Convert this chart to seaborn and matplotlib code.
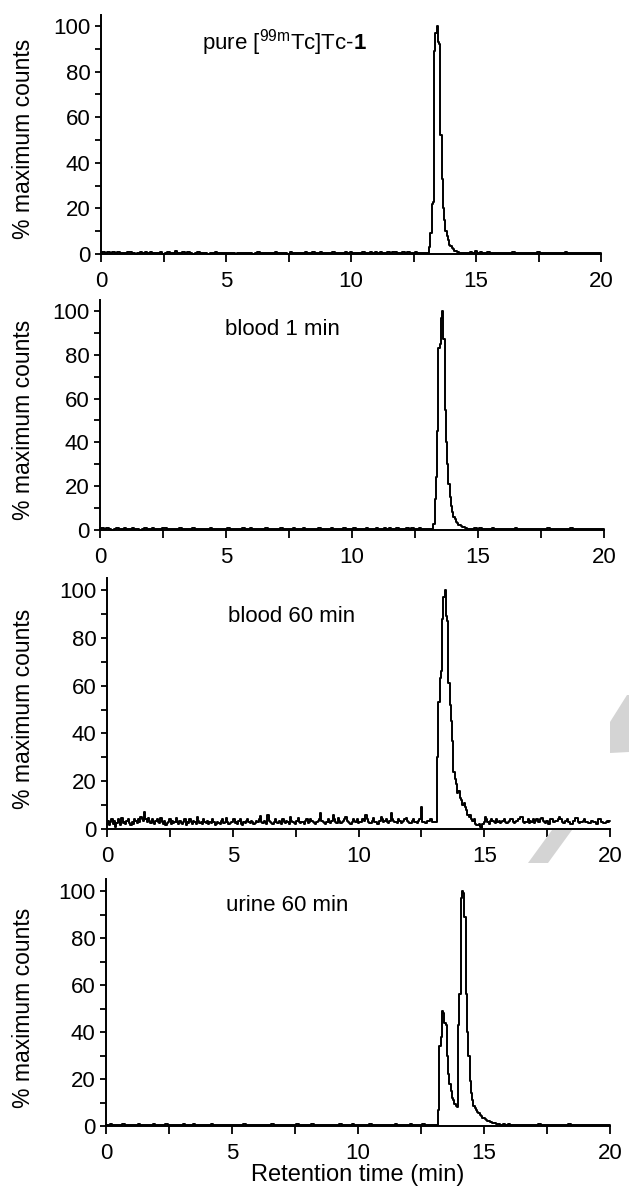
import numpy as np
import pandas as pd
import matplotlib
matplotlib.use("Agg")
import matplotlib.pyplot as plt
import seaborn as sns
from matplotlib.patches import Polygon
from matplotlib.ticker import MultipleLocator

sns.set_theme(style="ticks")
plt.rcParams['font.family'] = ['Liberation Sans', 'DejaVu Sans']
plt.rcParams['mathtext.fontset'] = 'custom'
plt.rcParams['mathtext.rm'] = 'Liberation Sans'
plt.rcParams['mathtext.it'] = 'Liberation Sans:italic'
plt.rcParams['mathtext.bf'] = 'Liberation Sans:bold'

# ---------------- data (% maximum counts) ----------------
PEAK_STEP = 0.05   # min, peak-window sampling

panel_labels = [r"pure [$^{\mathregular{99m}}$Tc]Tc-$\mathbf{1}$",
                "blood 1 min", "blood 60 min", "urine 60 min"]

x_ticks = [0, 5, 10, 15, 20]
y_ticks = [0, 20, 40, 60, 80, 100]

# baseline sampled every 0.1 min
base1 = [0.6, 0.9, 0.4, 0.7, 0.3, 0.8, 0.5, 1.0, 0.4, 0.6,
         0.3, 0.7, 0.9, 0.5, 0.2, 0.6, 0.8, 0.4, 0.7, 0.5,
         0.9, 0.3, 0.6, 0.4, 0.8, 0.2, 0.5, 0.7, 0.3, 0.6,
         1.1, 0.5, 0.4, 0.7, 0.3, 0.9, 0.6, 0.2, 0.5, 0.8,
         0.4, 0.6, 0.3, 0.2, 0.5, 0.4, 0.7, 0.3, 0.6, 0.5,
         0.3, 0.5, 0.4, 0.6, 0.2, 0.5, 0.3, 0.4, 0.6, 0.3,
         0.5, 0.2, 0.4, 0.7, 0.3, 0.5, 0.4, 0.6, 0.3, 0.5,
         0.8, 0.4, 0.3, 0.6, 0.5, 0.2, 0.7, 0.4, 0.5, 0.3,
         0.6, 0.4, 0.7, 0.5, 0.3, 0.8, 0.4, 0.6, 0.9, 0.5,
         0.3, 0.6, 0.4, 0.7, 0.5, 0.3, 0.6, 0.4, 0.8, 0.5,
         0.7, 0.4, 0.6, 0.3, 0.5, 0.8, 0.4, 0.6, 0.7, 0.5,
         0.9, 0.5, 0.7, 0.4, 0.6, 0.8, 0.5, 0.7, 1.0, 0.6,
         0.5, 0.7, 0.4, 0.8, 0.6, 0.5, 0.7, 0.4, 0.6, 0.5,
         0.4, 0.5, 0.5, 0.5, 0.5, 0.5, 0.5, 0.5, 0.5, 0.5,
         0.5, 0.5, 0.5, 0.5, 0.5, 0.5, 0.6, 0.4, 0.8, 0.5,
         1.2, 0.6, 0.9, 0.5, 0.4, 0.7, 0.3, 0.5, 0.6, 0.4,
         0.3, 0.5, 0.4, 0.6, 0.3, 0.7, 0.5, 0.4, 0.6, 0.3,
         0.5, 0.4, 0.6, 0.3, 0.5, 0.7, 0.4, 0.5, 0.3, 0.6,
         0.4, 0.5, 0.3, 0.6, 0.4, 0.5, 0.7, 0.3, 0.4, 0.6,
         0.5, 0.3, 0.5, 0.4, 0.6, 0.3, 0.5, 0.4, 0.3, 0.5,
         0.4]
peak1_start = 13.10
peak1 = [0.5, 3, 9, 22, 23, 89, 97, 100, 93, 92,
         52, 33, 20, 15, 10, 8, 6, 4, 3.5, 2.5,
         2, 1.5, 1.2, 1.0, 0.8, 0.5, 0.4, 0.3, 0.6, 0.3]

# baseline sampled every 0.1 min
base2 = [0.4, 0.7, 0.3, 0.8, 0.5, 0.2, 0.6, 0.9, 0.4, 0.5,
         0.7, 0.3, 0.5, 0.8, 0.4, 0.6, 0.2, 0.5, 0.7, 0.4,
         0.6, 0.8, 0.3, 0.5, 0.4, 0.7, 0.9, 0.3, 0.6, 0.4,
         0.5, 0.3, 0.7, 0.4, 0.6, 0.5, 0.3, 0.8, 0.4, 0.6,
         0.3, 0.5, 0.4, 0.6, 0.7, 0.3, 0.5, 0.4, 0.6, 0.3,
         0.5, 0.7, 0.3, 0.4, 0.6, 0.5, 0.3, 0.7, 0.4, 0.5,
         0.8, 0.4, 0.6, 0.3, 0.5, 0.4, 0.7, 0.5, 0.3, 0.6,
         0.4, 0.5, 0.7, 0.3, 0.6, 0.4, 0.5, 0.8, 0.4, 0.6,
         0.3, 0.7, 0.5, 0.4, 0.6, 0.3, 0.5, 0.7, 0.4, 0.5,
         0.6, 0.4, 0.8, 0.5, 0.3, 0.6, 0.4, 0.7, 0.5, 0.4,
         0.5, 0.7, 0.4, 0.6, 0.3, 0.5, 0.8, 0.4, 0.6, 0.5,
         0.7, 0.4, 0.6, 0.9, 0.5, 0.7, 0.4, 0.6, 0.8, 0.5,
         0.6, 0.4, 0.7, 0.5, 0.8, 0.6, 0.4, 0.7, 0.5, 0.6,
         0.5, 0.6, 0.4, 0.5, 0.5, 0.5, 0.5, 0.5, 0.5, 0.5,
         0.5, 0.5, 0.5, 0.5, 0.5, 0.5, 0.5, 0.6, 0.4, 0.7,
         0.5, 0.8, 0.4, 0.6, 0.5, 0.3, 0.7, 0.4, 0.5, 0.6,
         0.4, 0.3, 0.6, 0.5, 0.4, 0.7, 0.3, 0.5, 0.6, 0.4,
         0.5, 0.6, 0.3, 0.5, 0.4, 0.6, 0.5, 0.3, 0.7, 0.4,
         0.6, 0.4, 0.5, 0.3, 0.6, 0.4, 0.5, 0.7, 0.4, 0.5,
         0.3, 0.5, 0.6, 0.4, 0.5, 0.3, 0.6, 0.4, 0.5, 0.4,
         0.5]
peak2_start = 13.20
peak2 = [0.5, 2.6, 14, 24, 45, 83, 85, 97, 100, 87,
         55, 40, 30, 21, 15, 11, 8, 6, 5, 3.5,
         3, 2.5, 2.2, 2, 1.5, 1.2, 1, 0.8, 0.5, 0.3]

# baseline sampled every 0.05 min (noisier trace)
base3 = [2, 3.5, 1.5, 3, 4, 2, 3.5, 1, 2.5, 4,
         3, 1.5, 4.5, 2.5, 3, 2, 3.5, 4, 2.5, 1.5,
         3, 2, 4, 3.5, 2.5, 4, 3, 5, 4, 3.5,
         7, 4, 3, 4.5, 3.5, 2.5, 4, 3, 2, 3.5,
         4, 3, 2.5, 4.5, 3, 2, 3.5, 1.5, 2.5, 3,
         4, 2, 3.5, 2.5, 3, 4.5, 3, 2, 3.5, 2.5,
         2, 3, 4, 1.5, 3, 2.5, 4, 3, 2, 3.5,
         3, 2, 5, 3.5, 2.5, 3, 2, 4, 3, 2.5,
         3.5, 2, 3, 2.5, 4, 3, 1.5, 2, 3, 2.5,
         2, 3.5, 4, 2.5, 3, 4.5, 3, 2, 2.5, 3,
         3, 4, 2.5, 3, 2, 3.5, 4, 2, 1.5, 3,
         2.5, 3.5, 4, 3, 2.5, 3.5, 3, 2, 2.5, 3.5,
         3, 4, 5.5, 3, 2.5, 3.5, 3, 2, 6, 3.5,
         3, 2.5, 2, 3, 4, 3, 2.5, 3.5, 3, 2,
         4, 3, 2.5, 3.5, 3, 2, 5, 3.5, 3, 2.5,
         2, 3.5, 4.5, 3, 2.5, 3, 3, 2, 3.5, 4,
         2.5, 3, 4, 3.5, 3, 2.5, 2, 3, 3.5, 4,
         6.5, 3.5, 3, 2.5, 2, 3, 4, 3, 2.5, 3.5,
         6, 4, 3, 2.5, 4.5, 3.5, 2.5, 3, 3.5, 4,
         5, 3.5, 3, 2.5, 2, 3, 4, 3.5, 3, 4,
         2.5, 3, 3, 4, 4, 3.5, 6, 4, 3, 2.5,
         2.5, 3.5, 4.5, 3, 3, 2, 2, 3.5, 5, 4,
         3, 3.5, 4, 3, 2.5, 3.5, 6.5, 4, 3.5, 3,
         3, 2.5, 4, 3.5, 2.5, 3, 3.5, 4, 4.5, 3.5,
         3, 2.5, 2.5, 3.5, 4, 3, 3, 2.5, 3.5, 4,
         9, 3, 3, 2.5, 2.5, 3.5, 3.5, 4, 4, 3,
         3, 3, 3, 3, 3, 3, 3, 3, 3, 3,
         3, 3, 3, 3, 3, 3, 3, 3, 3, 3,
         3, 3, 3, 3, 3, 3, 3, 3, 3, 3,
         3, 3, 3, 3, 3, 1.5, 2, 1, 0.5, 2,
         3, 5, 4, 3, 2, 3.5, 4, 3.5, 3, 2.5,
         4, 3, 3.5, 2.5, 3, 3.5, 4, 3, 2.5, 3,
         3.5, 4, 4, 3, 2.5, 3, 3.5, 4, 4, 5,
         5, 3, 2.5, 3, 3, 4, 2.5, 3.5, 3, 4,
         2.5, 3.5, 4, 3, 3, 4, 4.5, 3.5, 3, 2.5,
         3.5, 2, 2, 4, 4, 3, 3, 3.5, 3.5, 4,
         5, 4, 3, 2.5, 2.5, 3.5, 4, 3, 3, 2,
         2, 3.5, 3.5, 4.5, 4.5, 3, 2.5, 3, 3, 3.5,
         4, 3, 3, 2.5, 2.5, 3.5, 3.5, 3, 3, 2,
         2, 4, 4, 3, 3, 2.5, 2.5, 3, 3.5, 3,
         3.5]
peak3_start = 13.10
peak3 = [3, 30, 53, 63, 66, 88, 97, 100, 89, 87,
         61, 52, 45, 37, 24, 21, 19, 15, 16, 13,
         12, 10, 11, 9, 8, 6, 5, 6, 4, 3.5,
         4, 2, 1.5]

# baseline sampled every 0.1 min
base4 = [0.5, 0.3, 0.7, 0.4, 0.6, 0.3, 0.5, 0.8, 0.4, 0.5,
         0.3, 0.6, 0.4, 0.7, 0.5, 0.3, 0.6, 0.4, 0.5, 0.8,
         0.4, 0.6, 0.3, 0.5, 0.7, 0.4, 0.5, 0.3, 0.6, 0.4,
         0.5, 0.8, 0.4, 0.6, 0.3, 0.7, 0.5, 0.4, 0.6, 0.3,
         0.5, 0.4, 0.7, 0.3, 0.5, 0.6, 0.4, 0.3, 0.5, 0.6,
         0.4, 0.5, 0.3, 0.6, 0.4, 0.7, 0.5, 0.3, 0.4, 0.6,
         0.5, 0.3, 0.6, 0.4, 0.5, 0.3, 0.7, 0.4, 0.5, 0.3,
         0.6, 0.4, 0.5, 0.3, 0.6, 0.4, 0.8, 0.5, 0.3, 0.6,
         0.4, 0.5, 0.7, 0.3, 0.5, 0.4, 0.6, 0.3, 0.5, 0.4,
         0.6, 0.3, 0.5, 0.7, 0.4, 0.5, 0.3, 0.6, 0.8, 0.5,
         0.4, 0.6, 0.3, 0.5, 0.4, 0.7, 0.5, 0.3, 0.6, 0.4,
         0.5, 0.3, 0.6, 0.4, 0.5, 0.7, 0.3, 0.5, 0.4, 0.6,
         0.5, 0.8, 0.4, 0.6, 0.5, 0.4, 0.7, 0.5, 0.6, 0.5,
         0.6, 0.5, 0.5, 0.5, 0.5, 0.5, 0.5, 0.5, 0.5, 0.5,
         0.5, 0.5, 0.5, 0.5, 0.5, 0.5, 0.5, 0.5, 0.5, 0.5,
         0.5, 0.5, 0.5, 0.5, 0.5, 0.5, 0.8, 0.6, 0.9, 0.5,
         0.7, 0.4, 0.6, 0.5, 0.3, 0.6, 0.4, 0.5, 0.3, 0.6,
         0.4, 0.5, 0.7, 0.3, 0.5, 0.4, 0.6, 0.3, 0.5, 0.4,
         0.6, 0.3, 0.5, 0.4, 0.7, 0.5, 0.3, 0.6, 0.4, 0.5,
         0.3, 0.5, 0.4, 0.6, 0.3, 0.5, 0.4, 0.3, 0.5, 0.4,
         0.5]
peak4_start = 13.15
peak4 = [0.5, 7, 34, 38, 49, 48, 44, 43, 30, 22,
         18, 15, 12, 11, 9.5, 8.5, 8, 43, 56, 97,
         100, 99, 89, 56, 40, 30, 19, 14, 11, 8.5,
         7.5, 6.8, 6, 5.4, 4.8, 4.2, 3.6, 3.2, 2.8, 2.5,
         2.3, 2.1, 1.8, 1.6, 1.4, 1.2, 1.1, 1.0]

base_steps = [0.1, 0.1, 0.05, 0.1]


def trace(base, base_step, peak_start, peak):
    tb = np.round(np.arange(len(base)) * base_step, 3)
    tp = np.round(peak_start + np.arange(len(peak)) * PEAK_STEP, 3)
    keep = (tb < tp[0] - 1e-9) | (tb > tp[-1] + 1e-9)
    t = np.concatenate([tb[keep], tp])
    v = np.concatenate([np.asarray(base, float)[keep], np.asarray(peak, float)])
    order = np.argsort(t)
    return pd.DataFrame({"t": t[order], "v": v[order]})


traces = [trace(base1, base_steps[0], peak1_start, peak1),
          trace(base2, base_steps[1], peak2_start, peak2),
          trace(base3, base_steps[2], peak3_start, peak3),
          trace(base4, base_steps[3], peak4_start, peak4)]

# ---------------- layout (pixels) ----------------
W, H = 629, 1194
# x of 0 min, x of 20 min, y of 0 %, y of 100 %
frames = [(101, 601, 254, 26),
          (100, 604, 530, 311),
          (107, 610, 829, 590),
          (106, 610, 1126, 891)]
label_pos = [(202, 50), (225, 335), (228, 622), (226, 911)]
YMAX = 105

fig = plt.figure(figsize=(W / 100, H / 100), dpi=100)
fig.patch.set_facecolor("white")

# light grey decorative strokes seen in the reference
for poly in [[(610, 753), (610, 722), (627, 695), (629, 695), (629, 752)],
             [(528, 863), (548, 863), (572, 830), (552, 830)]]:
    fig.patches.append(Polygon([(x / W, 1 - y / H) for x, y in poly],
                               closed=True, transform=fig.transFigure,
                               facecolor="#d4d4d4", edgecolor="none", zorder=0))

axes = []
for i, (df, (x0, x20, y0, y100)) in enumerate(zip(traces, frames)):
    h = (y0 - y100) * YMAX / 100
    ax = fig.add_axes([x0 / W, 1 - y0 / H, (x20 - x0) / W, h / H])
    ax.patch.set_alpha(0)
    sns.lineplot(data=df, x="t", y="v", ax=ax, color="black", lw=1.4,
                 drawstyle="steps-mid", estimator=None, sort=False,
                 clip_on=False)
    ax.set_xlim(0, 20)
    ax.set_ylim(0, YMAX)
    ax.set_xticks(x_ticks)
    ax.set_yticks(y_ticks)
    ax.xaxis.set_minor_locator(MultipleLocator(2.5))
    ax.yaxis.set_minor_locator(MultipleLocator(10))
    for s in ["top", "right"]:
        ax.spines[s].set_visible(False)
    for s in ["left", "bottom"]:
        ax.spines[s].set_linewidth(1.4)
        ax.spines[s].set_color("black")
    ax.tick_params(axis="both", which="both", direction="out", color="black",
                   width=1.3, labelcolor="black")
    ax.tick_params(axis="x", which="both", length=5.5)
    ax.tick_params(axis="x", which="major", labelsize=16, pad=7)
    ax.tick_params(axis="y", which="both", length=4.5)
    ax.tick_params(axis="y", which="major", labelsize=16, pad=3)
    ax.set_xlabel("")
    ax.set_ylabel("% maximum counts", fontsize=16.5, color="black")
    ax.yaxis.set_label_coords((35 - x0) / (x20 - x0), 0.48)
    lx, ly = label_pos[i]
    fig.text(lx / W, 1 - ly / H, panel_labels[i], fontsize=16,
             ha="left", va="baseline", color="black")
    axes.append(ax)

axes[-1].set_xlabel("Retention time (min)", fontsize=17, color="black",
                    labelpad=0)

fig.savefig("out.png", dpi=100, facecolor="white")
